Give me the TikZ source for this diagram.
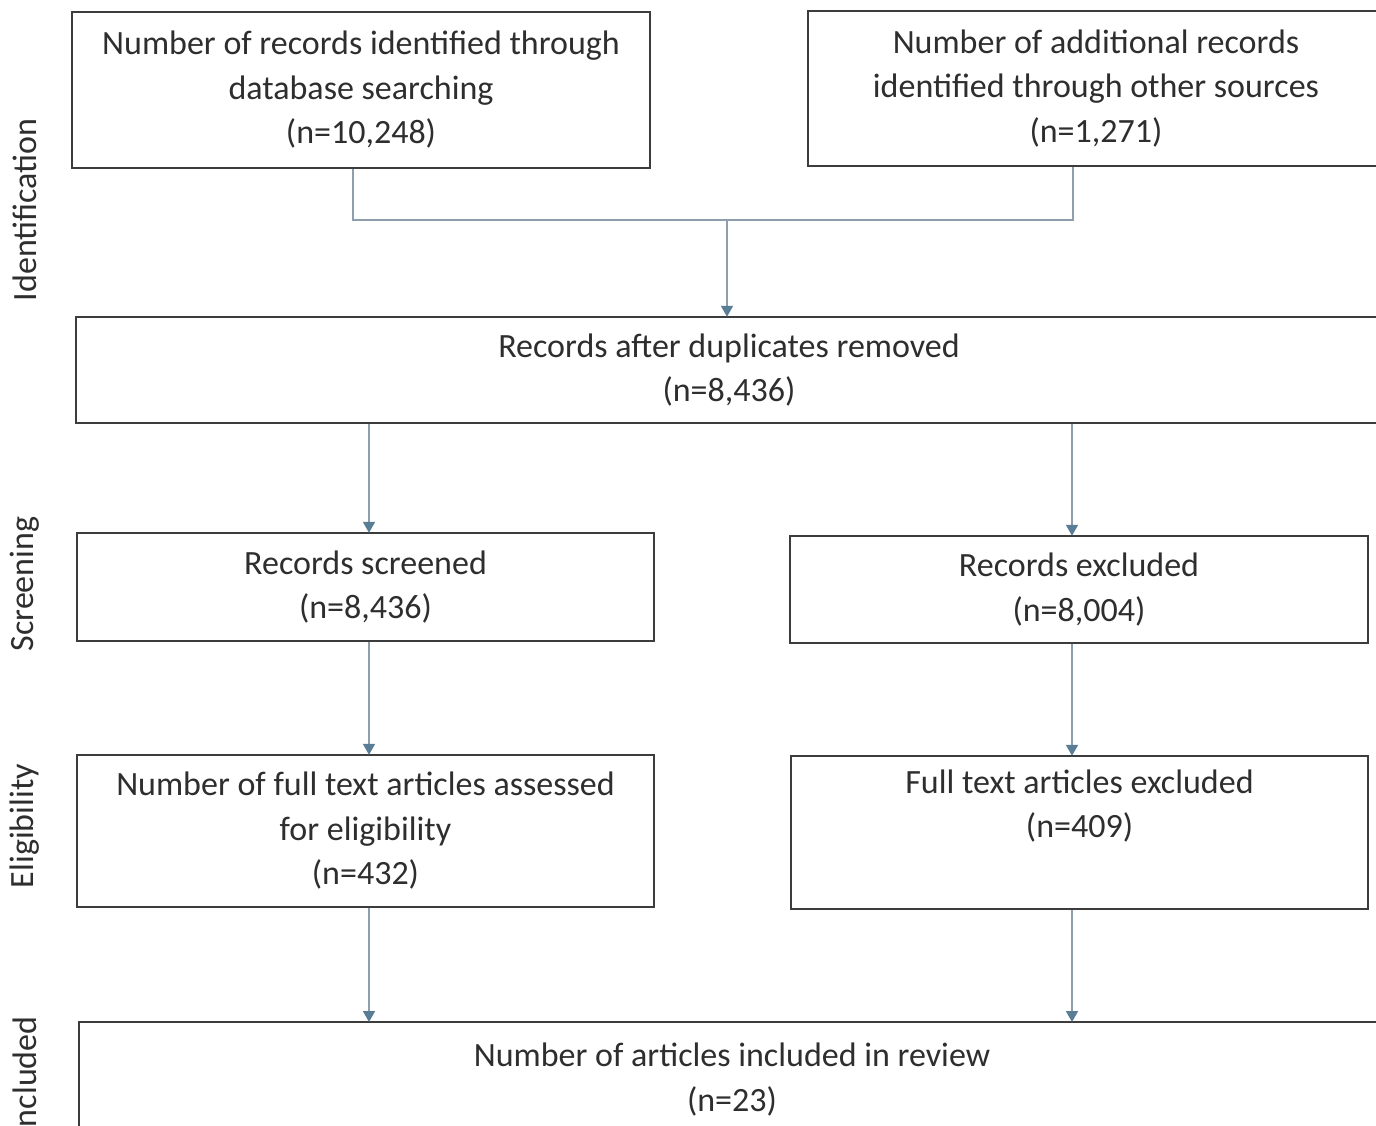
\documentclass[tikz,border=0pt]{standalone}
\usepackage{fontspec}
\setmainfont{Carlito}
\usetikzlibrary{arrows.meta}
\definecolor{boxline}{HTML}{3C3C3C}
\definecolor{txt}{HTML}{2E2E2E}
\definecolor{conn}{HTML}{8E9EAC}
\definecolor{tipc}{HTML}{5A7D96}
\tikzset{
  box/.style={draw=boxline, line width=2.4pt, fill=white, align=center, text=txt,
    font=\fontsize{34}{44.5}\selectfont, inner sep=0pt},
  conn/.style={draw=conn, line width=1.6pt},
  arr/.style={conn, -{Triangle[width=12pt,length=11pt,color=tipc]}, shorten >=-1pt},
  phase/.style={rotate=90, text=txt, font=\fontsize{34}{40}\selectfont}
}
\begin{document}
\begin{tikzpicture}[x=1pt,y=-1pt]
\useasboundingbox (0,0) rectangle (1376,1125);
\clip (0,0) rectangle (1376,1125);
\fill[white] (0,0) rectangle (1376,1125);

% boxes
\node[box, minimum width=578pt, minimum height=156pt] (b1) at (361,90)
  {Number of records identified through\\database searching\\(n=10,248)};
\node[box, minimum width=576pt, minimum height=155pt] (b2) at (1096,88.5)
  {Number of additional records\\identified through other sources\\(n=1,271)};
\node[box, minimum width=1306pt, minimum height=106pt] (dup) at (729,370)
  {Records after duplicates removed\\(n=8,436)};
\node[box, minimum width=577pt, minimum height=108pt] (scr) at (365.5,587)
  {Records screened\\(n=8,436)};
\node[box, minimum width=578pt, minimum height=107pt] (exc) at (1079,589.5)
  {Records excluded\\(n=8,004)};
\node[box, minimum width=577pt, minimum height=152pt] (eli) at (365.5,831)
  {Number of full text articles assessed\\for eligibility\\(n=432)};
\node[box, minimum width=577pt, minimum height=153pt] (fte) at (1079.5,832.5)
  {Full text articles excluded\\(n=409)\\\strut};
\node[box, minimum width=1306pt, minimum height=140pt, anchor=north] (inc) at (732,1021)
  {\rule{0pt}{10pt}\\[-10pt]Number of articles included in review\\(n=23)\\\strut\\\strut};

% phase labels
\node[phase] (l1) at (25,210) {Identification};
\node[phase] (l2) at (25,584) {Screening};
\node[phase] (l3) at (25,826) {Eligibility};
\node[phase] (l4) at (25,1076) {Included};

% x positions
\coordinate (xa) at (353,0);
\coordinate (xb) at (1073,0);
\coordinate (xm) at (727,0);
\coordinate (xl) at (369,0);
\coordinate (xr) at (1072,0);
\coordinate (ym) at (0,220);

% merge bracket
\draw[conn] (b1.south -| xa) -- (xa |- ym) -- (xb |- ym) -- (b2.south -| xb);
\draw[arr] (xm |- ym) -- (dup.north -| xm);

% arrows
\draw[arr] (dup.south -| xl) -- (scr.north -| xl);
\draw[arr] (dup.south -| xr) -- (exc.north -| xr);
\draw[arr] (scr.south -| xl) -- (eli.north -| xl);
\draw[arr] (exc.south -| xr) -- (fte.north -| xr);
\draw[arr] (eli.south -| xl) -- (inc.north -| xl);
\draw[arr] (fte.south -| xr) -- (inc.north -| xr);
\end{tikzpicture}
\end{document}
